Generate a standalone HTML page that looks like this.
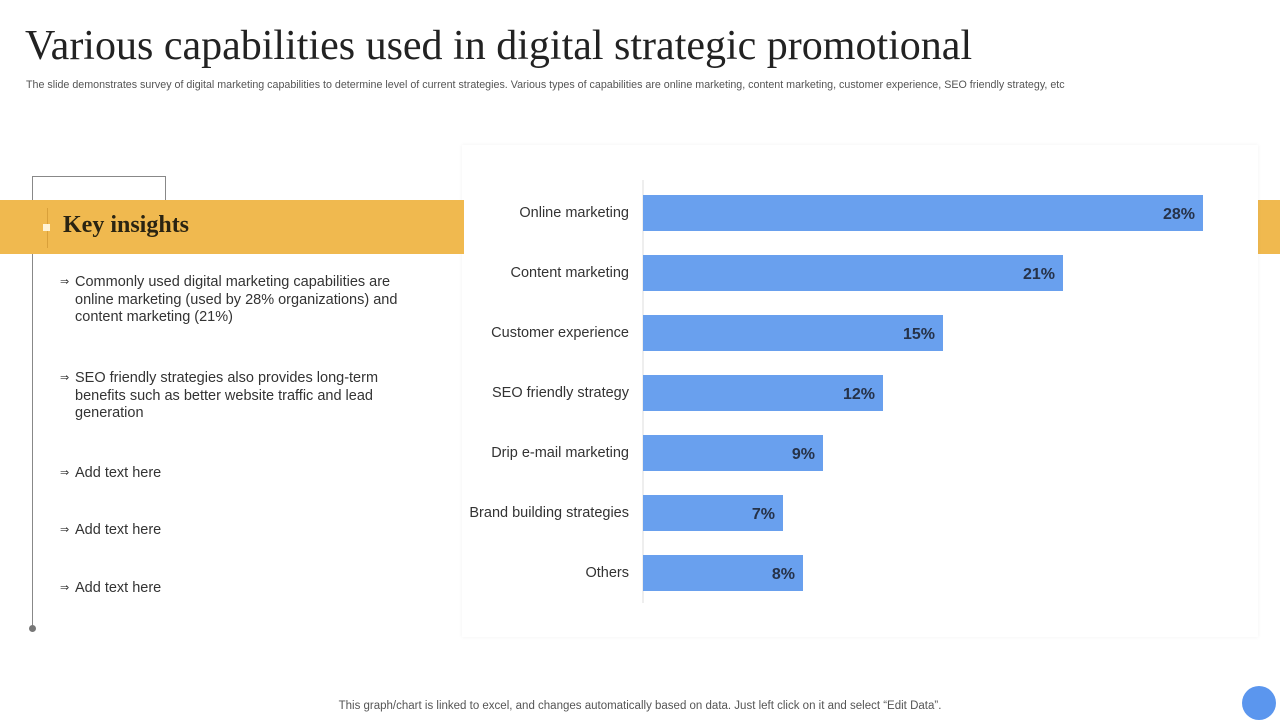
<!DOCTYPE html>
<html><head><meta charset="utf-8"><style>
body{margin:0;width:1280px;height:720px;background:#fff;position:relative;overflow:hidden;font-family:"Liberation Sans",sans-serif;color:#333}
.abs{position:absolute}
h1{position:absolute;left:25px;top:22px;margin:0;font:400 42px "Liberation Serif",serif;color:#222;white-space:nowrap}
.sub{left:26px;top:79px;font-size:10.7px;color:#555;white-space:nowrap}
.item{position:absolute;left:60px;font-size:14.5px;line-height:17.5px;color:#333;width:340px}
.item span{position:absolute;left:0;font-size:11px}
.item div{margin-left:15px}
</style></head><body>
<h1>Various capabilities used in digital strategic promotional</h1>
<div class="abs sub">The slide demonstrates survey of digital marketing capabilities to determine level of current strategies. Various types of capabilities are online marketing, content marketing, customer experience, SEO friendly strategy, etc</div>
<div class="abs" style="left:1256px;top:200px;width:24px;height:54px;background:#f0b94f"></div>
<div class="abs" style="left:462px;top:145px;width:796px;height:492px;background:#fff;box-shadow:0 0 4px rgba(0,0,0,0.06)"></div>
<div class="abs" style="left:32px;top:176px;width:133px;height:452px;border-left:1px solid #888;border-top:1px solid #888"></div>
<div class="abs" style="left:165px;top:176px;width:1px;height:24px;background:#888"></div>
<div class="abs" style="left:29px;top:625px;width:7px;height:7px;border-radius:50%;background:#777"></div>
<div class="abs" style="left:0;top:200px;width:464px;height:54px;background:#f0b94f"></div>
<div class="abs" style="left:47px;top:208px;width:1px;height:40px;background:#d9a03a"></div>
<div class="abs" style="left:43px;top:224px;width:7px;height:7px;background:#fff3d6"></div>
<div class="abs" style="left:63px;top:212px;font:700 24px 'Liberation Serif',serif;color:#2a2412">Key insights</div>
<div class="item" style="top:274px"><span>⇒</span><div>Commonly used digital marketing capabilities are online marketing (used by 28% organizations) and content marketing (21%)</div></div>
<div class="item" style="top:370px"><span>⇒</span><div>SEO friendly strategies also provides long-term benefits such as better website traffic and lead generation</div></div>
<div class="item" style="top:465px"><span>⇒</span><div>Add text here</div></div>
<div class="item" style="top:522px"><span>⇒</span><div>Add text here</div></div>
<div class="item" style="top:580px"><span>⇒</span><div>Add text here</div></div>
<svg class="abs" style="left:0;top:0" width="1280" height="720" id="chart"></svg>
<div class="abs" style="left:0;width:1280px;text-align:center;top:700px;font-size:11.5px;color:#555">This graph/chart is linked to excel, and changes automatically based on data. Just left click on it and select “Edit Data”.</div>
<div class="abs" style="left:1242px;top:686px;width:34px;height:34px;border-radius:50%;background:#5b96ee"></div>
<script>
const categories=["Online marketing","Content marketing","Customer experience","SEO friendly strategy","Drip e-mail marketing","Brand building strategies","Others"];
const values=[28,21,15,12,9,7,8];
const valueLabels=["28%","21%","15%","12%","9%","7%","8%"];
const svg=document.getElementById('chart');
const NS='http://www.w3.org/2000/svg';
const x0=643,pxPer=20,y0=213,step=60,bh=36;
const xs=v=>x0+v*pxPer, ys=i=>y0+i*step;
const ax=document.createElementNS(NS,'line');
ax.setAttribute('x1',x0);ax.setAttribute('x2',x0);ax.setAttribute('y1',180);ax.setAttribute('y2',603);ax.setAttribute('stroke','#ddd');


svg.appendChild(ax);
categories.forEach((c,i)=>{
 const r=document.createElementNS(NS,'rect');
 r.setAttribute('x',x0);r.setAttribute('y',ys(i)-bh/2);r.setAttribute('width',xs(values[i])-x0);r.setAttribute('height',bh);r.setAttribute('fill','#69a0ee');
 
 
 svg.appendChild(r);
 const t=document.createElementNS(NS,'text');
 t.setAttribute('x',629);t.setAttribute('y',ys(i)+4);t.setAttribute('text-anchor','end');t.setAttribute('font-size','14.5');t.setAttribute('fill','#333');t.setAttribute('font-family','Liberation Sans, sans-serif');
 t.textContent=c;
 
 
 svg.appendChild(t);
 const v=document.createElementNS(NS,'text');
 v.setAttribute('x',xs(values[i])-8);v.setAttribute('y',ys(i)+6);v.setAttribute('text-anchor','end');v.setAttribute('font-size','16');v.setAttribute('font-weight','700');v.setAttribute('fill','#263248');v.setAttribute('font-family','Liberation Sans, sans-serif');
 v.textContent=valueLabels[i];
 
 
 svg.appendChild(v);
});
</script>
</body></html>
